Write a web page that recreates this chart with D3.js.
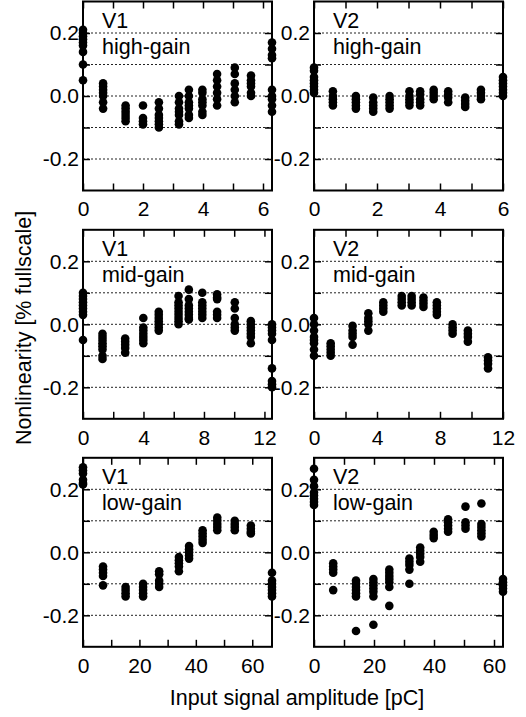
<!DOCTYPE html>
<html>
<head>
<meta charset="UTF-8">
<title>Nonlinearity</title>
<style>
  body { margin: 0; background: #fff; }
  svg { display: block; }
  text { font-family: "Liberation Sans", Arial, sans-serif; fill: #000; }
</style>
</head>
<body>
<svg width="526" height="717"></svg>
<script src="https://d3js.org/d3.v7.min.js"></script>
<script>
// --- data: x positions of each column and the y values stacked at it ---
const v1HighX = [0, 0.67, 1.42, 2.0, 2.53, 3.2, 3.53, 3.98, 4.47, 5.06, 5.6, 6.3];
const v1HighY = [
  [0.21, 0.20, 0.19, 0.18, 0.17, 0.16, 0.14, 0.10, 0.05],
  [0.04, 0.03, 0.02, 0.01, 0.0, -0.02, -0.04],
  [-0.03, -0.04, -0.05, -0.06, -0.07, -0.08],
  [-0.03, -0.07, -0.08, -0.09],
  [-0.02, -0.04, -0.06, -0.07, -0.08, -0.09, -0.10],
  [0.0, -0.02, -0.04, -0.05, -0.06, -0.08, -0.09],
  [0.02, 0.0, -0.02, -0.03, -0.04, -0.06, -0.07],
  [0.02, 0.01, -0.01, -0.02, -0.03, -0.05, -0.06],
  [0.07, 0.05, 0.03, 0.01, -0.01, -0.03],
  [0.09, 0.07, 0.04, 0.02, 0.0, -0.02],
  [0.065, 0.05, 0.04, 0.03, 0.01, 0.0],
  [0.17, 0.15, 0.13, 0.12, 0.02, 0.0, -0.01, -0.03, -0.05]
];

const v2HighX = [0, 0.6, 1.33, 1.88, 2.4, 3.03, 3.37, 3.8, 4.26, 4.8, 5.3, 6.0];
const v2HighY = [
  [0.09, 0.08, 0.06, 0.05, 0.04, 0.03, 0.02, 0.01],
  [0.015, 0.0, -0.01, -0.02, -0.03],
  [0.0, -0.01, -0.02, -0.03, -0.04],
  [-0.005, -0.02, -0.03, -0.04, -0.05],
  [0.0, -0.01, -0.02, -0.03, -0.04],
  [0.015, 0.0, -0.01, -0.02, -0.03],
  [0.015, 0.005, -0.01, -0.02, -0.03],
  [0.02, 0.01, 0.0, -0.01],
  [0.015, 0.005, -0.005, -0.02],
  [-0.005, -0.015, -0.025, -0.035],
  [0.02, 0.01, 0.0, -0.01],
  [0.06, 0.05, 0.04, 0.03, 0.02, 0.01, 0.0]
];

const v1MidX = [0, 1.29, 2.79, 3.99, 5.01, 6.32, 7.0, 7.89, 8.87, 10.04, 11.1, 12.5];
const v1MidY = [
  [0.10, 0.09, 0.08, 0.07, 0.06, 0.05, 0.04, 0.03, -0.05],
  [-0.03, -0.04, -0.05, -0.06, -0.07, -0.08, -0.10, -0.11],
  [-0.045, -0.055, -0.065, -0.075, -0.09],
  [0.02, -0.01, -0.02, -0.03, -0.04, -0.05, -0.06],
  [0.04, 0.03, 0.02, 0.01, 0.0, -0.01, -0.02],
  [0.09, 0.07, 0.06, 0.05, 0.04, 0.03, 0.02, 0.01, 0.0],
  [0.11, 0.08, 0.06, 0.05, 0.04, 0.03, 0.02, 0.015],
  [0.10, 0.07, 0.06, 0.05, 0.04, 0.03, 0.02],
  [0.095, 0.085, 0.08, 0.04, 0.03, 0.02],
  [0.07, 0.05, 0.02, 0.0, -0.01, -0.02],
  [0.01, 0.0, -0.01, -0.02, -0.03, -0.04, -0.06],
  [0.0, -0.01, -0.02, -0.03, -0.05, -0.14, -0.18, -0.19, -0.20]
];

const v2MidX = [0, 1.06, 2.45, 3.45, 4.4, 5.57, 6.2, 6.95, 7.8, 8.8, 9.77, 11.05];
const v2MidY = [
  [0.02, 0.0, -0.02, -0.04, -0.05, -0.06, -0.08, -0.10],
  [-0.06, -0.07, -0.08, -0.09, -0.10],
  [-0.005, -0.02, -0.03, -0.04, -0.065],
  [0.035, 0.02, 0.01, 0.0, -0.02],
  [0.07, 0.06, 0.05, 0.04],
  [0.09, 0.08, 0.07, 0.06],
  [0.09, 0.08, 0.07, 0.06],
  [0.085, 0.075, 0.065, 0.055],
  [0.07, 0.06, 0.05, 0.04, 0.03],
  [0.0, -0.01, -0.02, -0.03],
  [-0.02, -0.03, -0.04, -0.055],
  [-0.105, -0.115, -0.125, -0.14]
];

const v1LowX = [0, 7.1, 15.1, 21.3, 27.0, 34.0, 37.6, 42.4, 47.6, 53.8, 59.5, 67];
const v1LowY = [
  [0.27, 0.26, 0.25, 0.23, 0.22, 0.215],
  [-0.045, -0.055, -0.065, -0.075, -0.105],
  [-0.11, -0.12, -0.13, -0.14],
  [-0.10, -0.11, -0.12, -0.13, -0.14],
  [-0.06, -0.07, -0.09, -0.10, -0.11],
  [-0.015, -0.025, -0.035, -0.045, -0.06],
  [0.02, 0.01, 0.0, -0.01, -0.02],
  [0.07, 0.06, 0.05, 0.04, 0.03],
  [0.11, 0.10, 0.09, 0.08, 0.07],
  [0.10, 0.09, 0.08, 0.07],
  [0.085, 0.075, 0.065, 0.06],
  [-0.065, -0.09, -0.10, -0.11, -0.12, -0.13, -0.14]
];

const v2LowX = [0, 6.4, 14.0, 19.8, 25.1, 31.8, 35.4, 39.9, 44.7, 50.5, 55.8, 63];
const v2LowY = [
  [0.265, 0.23, 0.21, 0.19, 0.18, 0.17, 0.16, 0.15],
  [-0.035, -0.045, -0.055, -0.065, -0.12],
  [-0.09, -0.10, -0.11, -0.12, -0.13, -0.14, -0.25],
  [-0.085, -0.095, -0.105, -0.115, -0.125, -0.14, -0.23],
  [-0.055, -0.065, -0.075, -0.085, -0.095, -0.11, -0.17],
  [-0.02, -0.03, -0.04, -0.055, -0.10],
  [0.015, 0.005, -0.005, -0.015, -0.03],
  [0.065, 0.055, 0.045],
  [0.105, 0.095, 0.085, 0.075, 0.065],
  [0.145, 0.095, 0.085, 0.075],
  [0.155, 0.09, 0.08, 0.07, 0.06, 0.05],
  [-0.085, -0.095, -0.105, -0.115, -0.125]
];

// tick labels
const highTicks = [0, 2, 4, 6];
const midTicks = [0, 4, 8, 12];
const lowTicks = [0, 20, 40, 60];
const yLabelTicks = [-0.2, 0, 0.2];
const yTicks = [-0.2, -0.1, 0, 0.1, 0.2];

const panels = [
  { ch: "V1", gain: "high-gain", xs: v1HighX, ys: v1HighY, max: 6.3, ticks: highTicks, step: 1, col: 0, row: 0 },
  { ch: "V2", gain: "high-gain", xs: v2HighX, ys: v2HighY, max: 6, ticks: highTicks, step: 1, col: 1, row: 0 },
  { ch: "V1", gain: "mid-gain", xs: v1MidX, ys: v1MidY, max: 12.5, ticks: midTicks, step: 2, col: 0, row: 1 },
  { ch: "V2", gain: "mid-gain", xs: v2MidX, ys: v2MidY, max: 12, ticks: midTicks, step: 2, col: 1, row: 1 },
  { ch: "V1", gain: "low-gain", xs: v1LowX, ys: v1LowY, max: 67, ticks: lowTicks, step: 10, col: 0, row: 2 },
  { ch: "V2", gain: "low-gain", xs: v2LowX, ys: v2LowY, max: 63, ticks: lowTicks, step: 10, col: 1, row: 2 }
];

const colLeft = [83, 314];
const panelW = 189;
const rowTop = [1.5, 229.8, 457.8];
const panelH = 189;

const svg = d3.select("svg");

panels.forEach(p => {
  const x0 = colLeft[p.col], y0 = rowTop[p.row];
  const g = svg.append("g").attr("transform", `translate(${x0},${y0})`);

  const x = d3.scaleLinear().domain([0, p.max]).range([0, panelW]);
  const y = d3.scaleLinear().domain([-0.3, 0.3]).range([panelH, 0]);

  // dotted grid
  g.append("g").selectAll("line")
    .data(yTicks)
    .enter().append("line")
    .attr("x1", 0).attr("x2", panelW)
    .attr("y1", d => y(d)).attr("y2", d => y(d))
    .attr("stroke", "#222")
    .attr("stroke-width", 1)
    .attr("stroke-dasharray", "2,2");

  const minor = d3.range(0, p.ticks[p.ticks.length - 1] + 0.001, p.step);

  // axes, ticks pointing inward
  const bottom = g.append("g").attr("transform", `translate(0,${panelH})`)
    .call(d3.axisBottom(x).tickValues(minor).tickSize(-7).tickPadding(11)
      .tickFormat(d => p.ticks.includes(d) ? d : ""));
  const top = g.append("g")
    .call(d3.axisTop(x).tickValues(minor).tickSize(-7).tickFormat(""));
  const left = g.append("g")
    .call(d3.axisLeft(y).tickValues(yTicks).tickSize(-7).tickPadding(4)
      .tickFormat(d => yLabelTicks.includes(d) ? d.toFixed(1) : ""));
  const right = g.append("g").attr("transform", `translate(${panelW},0)`)
    .call(d3.axisRight(y).tickValues(yTicks).tickSize(-7).tickFormat(""));

  [bottom, top, left, right].forEach(a => {
    a.select(".domain").remove();
    a.selectAll(".tick line").attr("stroke", "#000").attr("stroke-width", 1.5);
    a.selectAll("text").style("font-size", "21px").attr("fill", "#000");
  });

  g.append("rect")
    .attr("width", panelW).attr("height", panelH)
    .attr("fill", "none").attr("stroke", "#000").attr("stroke-width", 2);

  // points
  const pts = [];
  p.xs.forEach((xv, i) => p.ys[i].forEach(yv => pts.push([xv, yv])));
  g.append("g").selectAll("circle")
    .data(pts)
    .enter().append("circle")
    .attr("cx", d => x(d[0]))
    .attr("cy", d => y(d[1]))
    .attr("r", 4.3)
    .attr("fill", "#000");

  g.append("text").attr("x", 19).attr("y", 26.5).style("font-size", "21.5px").text(p.ch);
  g.append("text").attr("x", 19).attr("y", 52).style("font-size", "21.5px").text(p.gain);
});

svg.append("text")
  .attr("transform", "translate(31,328) rotate(-90)")
  .attr("text-anchor", "middle")
  .style("font-size", "21.5px")
  .text("Nonlinearity [% fullscale]");

svg.append("text")
  .attr("x", 297).attr("y", 705)
  .attr("text-anchor", "middle")
  .style("font-size", "21.5px")
  .text("Input signal amplitude [pC]");
</script>
</body>
</html>
